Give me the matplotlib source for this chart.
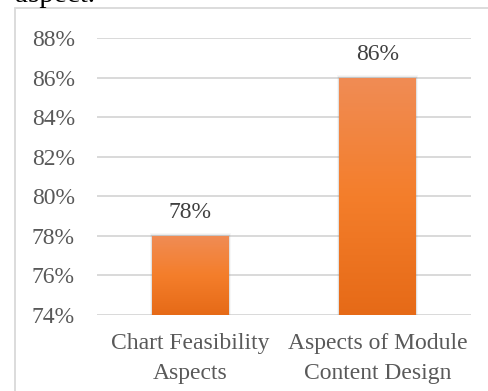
import matplotlib
matplotlib.use("Agg")
import matplotlib.pyplot as plt
import numpy as np
from matplotlib.patches import Rectangle
from matplotlib.colors import LinearSegmentedColormap

categories = ["Chart Feasibility\nAspects", "Aspects of Module\nContent Design"]
values = [78, 86]
yticks = [74, 76, 78, 80, 82, 84, 86, 88]

plt.rcParams['font.family'] = ['Liberation Serif', 'DejaVu Serif']

W, H = 489, 391
fig = plt.figure(figsize=(W/100, H/100), dpi=100)
ax = fig.add_axes([97/W, 1-315/H, (471-97)/W, (315-38)/H])

# outer chart border (extends past figure right/bottom)
fig.patches.append(Rectangle((15/W, -0.1), 1.2, (H-8)/H + 0.1, transform=fig.transFigure,
                             fill=False, edgecolor='#d9d9d9', linewidth=1.3, zorder=0))
fig.text(15/W, 1-1.5/H, "aspect.", fontsize=21, color='black', va='baseline', ha='left')

gray = '#595959'
fs = 17
ymin, ymax = 74, 88
ax.set_ylim(ymin, ymax)
ax.set_xlim(-0.5, 1.5)
ax.set_yticks(yticks)
ax.set_yticklabels([f"{t}%" for t in yticks])
ax.set_xticks(range(len(categories)))
ax.set_xticklabels(categories, linespacing=1.55)
ax.tick_params(axis='y', length=0, pad=16, labelsize=fs, labelcolor=gray)
ax.tick_params(axis='x', length=0, pad=13, labelsize=fs, labelcolor=gray)
for s in ax.spines.values():
    s.set_visible(False)
ax.grid(axis='y', color='#d9d9d9', linewidth=1.4)
ax.set_axisbelow(True)

cmap = LinearSegmentedColormap.from_list('og', ['#E66A17', '#F47E2B', '#F08C55'])
grad = np.linspace(0, 1, 256).reshape(-1, 1)
width = 0.41
bars = ax.bar(range(len(values)), [v - ymin for v in values], bottom=ymin, width=width,
              color='none', edgecolor='none', zorder=3)
for i, (b, v) in enumerate(zip(bars, values)):
    x0 = i - width/2
    # soft shadow
    for k, a in [(0.012, 0.06), (0.008, 0.08), (0.004, 0.10)]:
        ax.add_patch(Rectangle((x0 - k, ymin), width + 2*k, v - ymin + k*12, color='#808080',
                               alpha=a, zorder=2, linewidth=0))
    im = ax.imshow(grad, cmap=cmap, extent=[x0, x0 + width, ymin, v], origin='lower',
                   aspect='auto', zorder=4)
    im.set_clip_path(b)
    ax.text(i, v + 0.65, f"{v}%", ha='center', va='bottom', fontsize=fs, color='#404040', zorder=5)

ax.set_xlim(-0.5, 1.5)
ax.set_ylim(ymin, ymax)
fig.savefig("out.png", dpi=100)
